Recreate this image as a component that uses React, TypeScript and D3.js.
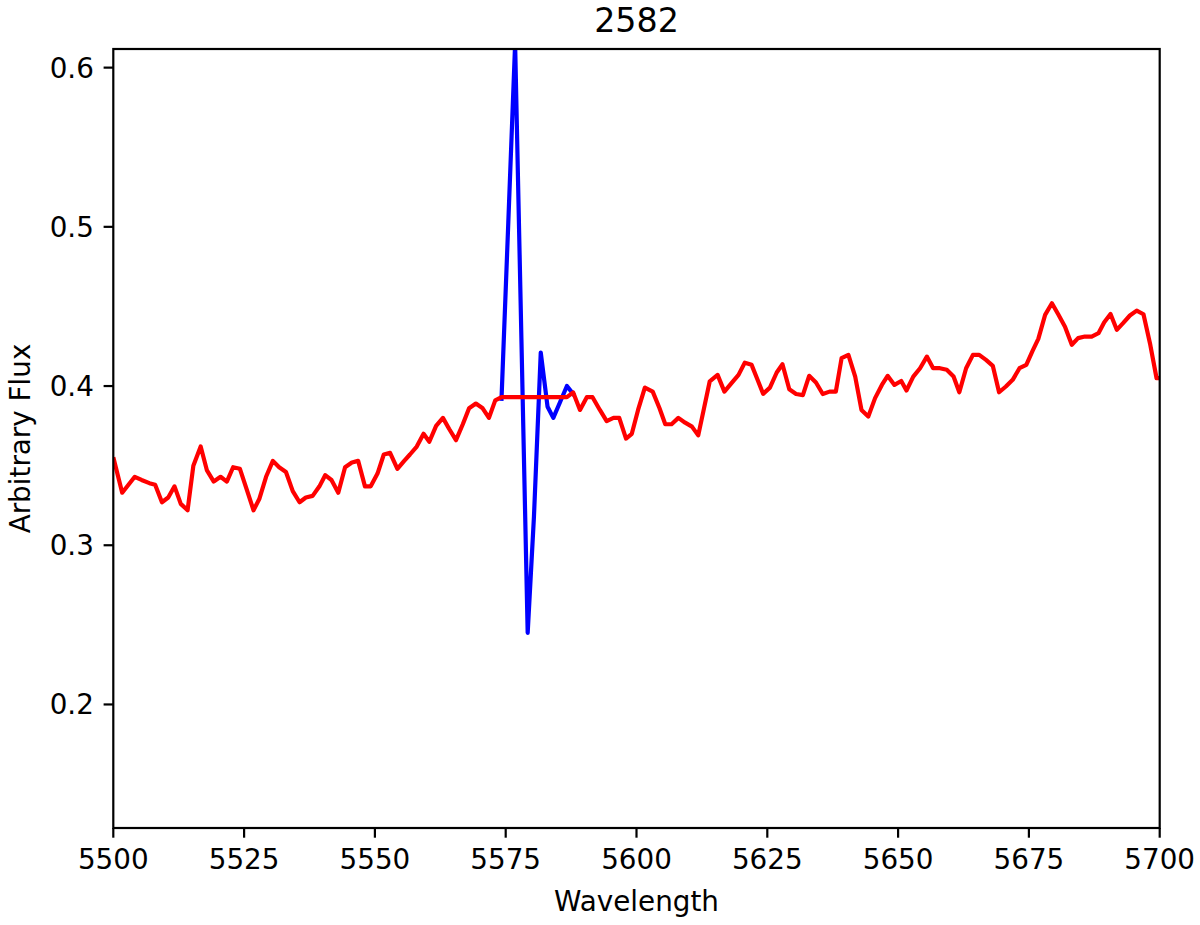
import React from "react";
import * as d3 from "d3";

const title = "2582";
const xLabel = "Wavelength";
const yLabel = "Arbitrary Flux";
const xTicks = [5500, 5525, 5550, 5575, 5600, 5625, 5650, 5675, 5700];
const yTicks = [0.2, 0.3, 0.4, 0.5, 0.6];
const xDomain = [5500, 5700];
const yDomain = [0.1224, 0.6117];

const redWave = [
  5500.1, 5501.7, 5502.9, 5504.1, 5505.4, 5506.9, 5508.0, 5509.3, 5510.5, 5511.7,
  5512.9, 5514.2, 5515.3, 5516.7, 5517.9, 5519.2, 5520.5, 5521.7, 5522.9, 5524.2,
  5525.4, 5526.8, 5527.9, 5529.2, 5530.5, 5531.7, 5533.0, 5534.3, 5535.6, 5536.8,
  5538.1, 5539.4, 5540.5, 5541.7, 5543.0, 5544.3, 5545.6, 5546.8, 5548.1, 5549.2,
  5550.5, 5551.7, 5552.9, 5554.3, 5555.6, 5556.7, 5558.0, 5559.3, 5560.4, 5561.7,
  5563.0, 5564.2, 5565.5, 5566.8, 5568.0, 5569.3, 5570.6, 5571.8, 5573.0, 5574.2,
  5575.5, 5576.8, 5578.0, 5579.2, 5580.4, 5581.7, 5583.0, 5584.1, 5585.4, 5586.7,
  5587.9, 5589.2, 5590.5, 5591.6, 5593.0, 5594.3, 5595.6, 5596.7, 5598.0, 5599.1,
  5600.3, 5601.6, 5603.1, 5604.4, 5605.5, 5606.7, 5608.0, 5609.3, 5610.6, 5611.8,
  5612.9, 5614.0, 5615.5, 5616.8, 5618.2, 5619.5, 5620.7, 5622.0, 5623.1, 5624.2,
  5625.5, 5626.8, 5627.9, 5629.2, 5630.5, 5631.8, 5633.0, 5634.3, 5635.6, 5636.9,
  5638.1, 5639.2, 5640.5, 5641.8, 5643.0, 5644.3, 5645.6, 5646.9, 5648.0, 5649.3,
  5650.6, 5651.6, 5652.9, 5654.2, 5655.5, 5656.7, 5658.0, 5659.3, 5660.6, 5661.7,
  5663.0, 5664.3, 5665.5, 5666.8, 5668.1, 5669.3, 5670.6, 5671.9, 5673.2, 5674.5,
  5675.7, 5676.8, 5678.1, 5679.4, 5680.6, 5681.9, 5683.2, 5684.4, 5685.7, 5687.0,
  5688.3, 5689.4, 5690.6, 5691.8, 5693.0, 5694.3, 5695.6, 5696.9, 5698.2, 5699.4,
  5700.6,
];

const redFlux = [
  0.354, 0.333, 0.338, 0.343, 0.341, 0.339, 0.338, 0.327, 0.330, 0.337,
  0.326, 0.322, 0.350, 0.362, 0.347, 0.340, 0.343, 0.340, 0.349, 0.348,
  0.336, 0.322, 0.329, 0.343, 0.353, 0.349, 0.346, 0.334, 0.327, 0.330,
  0.331, 0.337, 0.344, 0.341, 0.333, 0.349, 0.352, 0.353, 0.337, 0.337,
  0.345, 0.357, 0.358, 0.348, 0.353, 0.357, 0.362, 0.370, 0.365, 0.375,
  0.380, 0.373, 0.366, 0.376, 0.386, 0.389, 0.386, 0.380, 0.391, 0.393,
  0.393, 0.393, 0.393, 0.393, 0.393, 0.393, 0.393, 0.393, 0.393, 0.393,
  0.396, 0.385, 0.393, 0.393, 0.385, 0.378, 0.380, 0.380, 0.367, 0.370,
  0.385, 0.399, 0.3965, 0.386, 0.376, 0.376, 0.380, 0.377, 0.3745, 0.369,
  0.386, 0.403, 0.407, 0.3965, 0.402, 0.407, 0.4147, 0.4133, 0.4043, 0.3951,
  0.399, 0.4085, 0.4137, 0.398, 0.395, 0.3943, 0.4064, 0.4022, 0.395, 0.3965,
  0.3965, 0.4175, 0.4196, 0.4059, 0.385, 0.3808, 0.3924, 0.4007, 0.4064, 0.4007,
  0.4032, 0.3972, 0.4059, 0.4112, 0.4185, 0.4112, 0.4112, 0.4102, 0.406, 0.3961,
  0.4112, 0.4196, 0.4196, 0.4164, 0.4127, 0.3961, 0.3997, 0.4039, 0.4112, 0.4133,
  0.4221, 0.4296, 0.4447, 0.452, 0.4451, 0.4373, 0.4259, 0.4301, 0.4311, 0.4311,
  0.4332, 0.4401, 0.4453, 0.4353, 0.4395, 0.4443, 0.4474, 0.4451, 0.4259, 0.4049,
  0.405,
];

const blueWave = [5574.2, 5575.5, 5576.8, 5578.0, 5579.2, 5580.4, 5581.7, 5583.0, 5584.1, 5585.4, 5586.7, 5587.9];
const blueFlux = [0.392, 0.503, 0.615, 0.43, 0.245, 0.318, 0.421, 0.387, 0.38, 0.39, 0.4, 0.395];

const W = 1200;
const H = 925;
const left = 113.3;
const right = 1159.7;
const top = 49;
const bottom = 828;
const FONT = "'DejaVu Sans', sans-serif";

export default function App() {
  React.useEffect(() => {
    document.body.style.margin = "0";
  }, []);

  const x = d3.scaleLinear().domain(xDomain).range([left, right]);
  const y = d3.scaleLinear().domain(yDomain).range([bottom, top]);

  const line = d3
    .line<[number, number]>()
    .x((d) => x(d[0]))
    .y((d) => y(d[1]));

  const redPts: [number, number][] = redWave.map((w, i) => [w, redFlux[i]]);
  const bluePts: [number, number][] = blueWave.map((w, i) => [w, blueFlux[i]]);

  const tickLen = 9.7;
  const tickPad = 9.7;
  const fs = 27.8;

  return (
    <svg
      width={W}
      height={H}
      style={{ position: "absolute", left: 0, top: 0, display: "block", background: "#fff" }}
      fontFamily={FONT}
    >
      <defs>
        <clipPath id="plotClip">
          <rect x={left} y={top} width={right - left} height={bottom - top} />
        </clipPath>
      </defs>
      <rect x={0} y={0} width={W} height={H} fill="#fff" />
      <g clipPath="url(#plotClip)">
        <path d={line(bluePts) || ""} fill="none" stroke="#0000ff" strokeWidth={4.2} strokeLinejoin="round" strokeLinecap="square" />
        <path d={line(redPts) || ""} fill="none" stroke="#ff0000" strokeWidth={4.2} strokeLinejoin="round" strokeLinecap="square" />
      </g>
      <rect x={left} y={top} width={right - left} height={bottom - top} fill="none" stroke="#000" strokeWidth={2.2} />
      {xTicks.map((t) => (
        <g key={"x" + t}>
          <line x1={x(t)} x2={x(t)} y1={bottom} y2={bottom + tickLen} stroke="#000" strokeWidth={2.2} />
          <text x={x(t)} y={bottom + tickLen + tickPad} dy="0.76em" textAnchor="middle" fontSize={fs} fill="#000">
            {t}
          </text>
        </g>
      ))}
      {yTicks.map((t) => (
        <g key={"y" + t}>
          <line x1={left - tickLen} x2={left} y1={y(t)} y2={y(t)} stroke="#000" strokeWidth={2.2} />
          <text x={left - tickLen - tickPad} y={y(t)} dy="0.36em" textAnchor="end" fontSize={fs} fill="#000">
            {t.toFixed(1)}
          </text>
        </g>
      ))}
      <text x={(left + right) / 2} y={911} textAnchor="middle" fontSize={fs} fill="#000">
        {xLabel}
      </text>
      <text
        transform={`translate(30, ${(top + bottom) / 2}) rotate(-90)`}
        textAnchor="middle"
        fontSize={fs}
        fill="#000"
      >
        {yLabel}
      </text>
      <text x={(left + right) / 2} y={32} textAnchor="middle" fontSize={33.3} fill="#000">
        {title}
      </text>
    </svg>
  );
}
